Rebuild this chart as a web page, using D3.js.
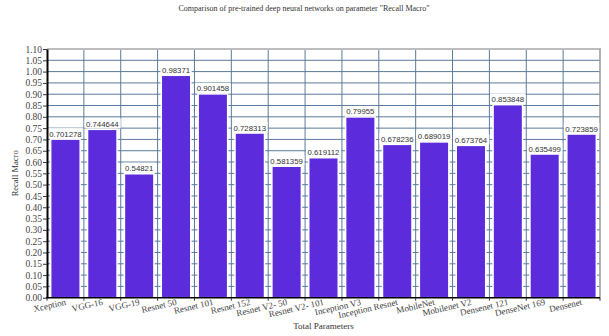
<!DOCTYPE html>
<html><head><meta charset="utf-8">
<script src="https://cdn.jsdelivr.net/npm/d3@7"></script>
<style>body{margin:0;background:#fff}</style>
</head><body>
<svg id="c" width="609" height="336"></svg>
<script>
const categories = ["Xception","VGG-16","VGG-19","Resnet 50","Resnet 101","Resnet 152","Resnet V2- 50","Resnet V2- 101","Inception V3","Inception Resnet","MobileNet","Mobilenet V2","Densenet 121","DenseNet 169","Densenet"];
const values = [0.701278,0.744644,0.54821,0.98371,0.901458,0.728313,0.581359,0.619112,0.79955,0.678236,0.689019,0.673764,0.853848,0.635499,0.723859];
const valueLabels = ["0.701278","0.744644","0.54821","0.98371","0.901458","0.728313","0.581359","0.619112","0.79955","0.678236","0.689019","0.673764","0.853848","0.635499","0.723859"];
const yTicks = d3.range(0, 23).map(i => +(i*0.05).toFixed(2));
const title = 'Comparison of pre-trained deep neural networks on parameter "Recall Macro"';
const xTitle = "Total Parameters";
const yTitle = "Recall Macro";

const svg = d3.select("#c");
const L = 47, R = 600, T = 49, B = 297.7;
const x = d3.scaleBand().domain(categories).range([L, R]).paddingInner(0.2).paddingOuter(0.1);
const y = d3.scaleLinear().domain([0, 1.1]).range([B, T]);
const bounds = d3.range(categories.length + 1).map(i => L + i * (R - L) / categories.length);

// grid
const g = svg.append("g");
g.selectAll("line.h").data(yTicks.slice(1, -1)).join("line")
  .attr("x1", L).attr("x2", R).attr("y1", d => y(d)).attr("y2", d => y(d))
  .attr("stroke", "#5a7a9c").attr("stroke-width", 1);
g.selectAll("line.v").data(bounds.slice(1, -1)).join("line")
  .attr("x1", d => d).attr("x2", d => d).attr("y1", T).attr("y2", B)
  .attr("stroke", "#5a7a9c").attr("stroke-width", 1);
g.append("line").attr("x1", L).attr("x2", R + 1).attr("y1", T).attr("y2", T).attr("stroke", "#bdbdbd").attr("stroke-width", 2);
g.append("line").attr("x1", R).attr("x2", R).attr("y1", T).attr("y2", B).attr("stroke", "#999").attr("stroke-width", 1.5);

// bars
const cw = (R - L) / categories.length;
const bw = cw * 0.8;
svg.selectAll("rect.bar").data(values).join("rect")
  .attr("x", (d, i) => bounds[i] + (cw - bw) / 2)
  .attr("width", bw)
  .attr("y", d => y(d)).attr("height", d => B - y(d))
  .attr("fill", "#5b2bdc").attr("stroke", "#fff").attr("stroke-width", 1.5);

// value labels
const lab = svg.append("g");
values.forEach((v, i) => {
  const cx = bounds[i] + cw / 2;
  const t = lab.append("text").attr("x", cx).attr("y", y(v) - 2.5)
    .attr("text-anchor", "middle").attr("font-family", "Liberation Sans, Arial, sans-serif")
    .attr("font-size", 7.8).attr("fill", "#333").text(valueLabels[i]);
  const bb = t.node().getBBox();
  lab.insert("rect", "text").attr("x", bb.x - 1.5).attr("y", y(v) - 11).attr("width", bb.width + 3).attr("height", 10).attr("fill", "#fff");
});

// y axis
const ya = svg.append("g").attr("transform", `translate(${L},0)`)
  .call(d3.axisLeft(y).tickValues(yTicks).tickFormat(d3.format(".2f")).tickSize(4).tickSizeOuter(0));
ya.select(".domain").attr("stroke", "#000").attr("stroke-width", 2);
ya.selectAll(".tick line").attr("stroke", "#333");
ya.selectAll(".tick text").attr("font-family", "Liberation Serif, Times New Roman, serif").attr("font-size", 9.5).attr("fill", "#444").attr("x", -5);

// x axis
svg.append("line").attr("x1", L - 1).attr("x2", R).attr("y1", B).attr("y2", B).attr("stroke", "#000").attr("stroke-width", 1.5);
svg.selectAll("line.xt").data(bounds).join("line")
  .attr("x1", d => d).attr("x2", d => d).attr("y1", B).attr("y2", B + 3).attr("stroke", "#333");
svg.selectAll("text.xl").data(categories).join("text")
  .attr("transform", (d, i) => `translate(${x(d) + x.bandwidth() / 2 + 1},${B + 7}) rotate(-13)`)
  .attr("text-anchor", "end").attr("font-family", "Liberation Serif, Times New Roman, serif")
  .attr("font-size", 9).attr("fill", "#444").text(d => d);

// titles
svg.append("text").attr("x", 304).attr("y", 11).attr("text-anchor", "middle")
  .attr("font-family", "Liberation Serif, Times New Roman, serif").attr("font-size", 8).attr("fill", "#333").text(title);
svg.append("text").attr("x", (L + R) / 2).attr("y", 329).attr("text-anchor", "middle")
  .attr("font-family", "Liberation Serif, Times New Roman, serif").attr("font-size", 9).attr("fill", "#333").text(xTitle);
svg.append("text").attr("transform", `translate(18,${(T + B) / 2}) rotate(-90)`).attr("text-anchor", "middle")
  .attr("font-family", "Liberation Serif, Times New Roman, serif").attr("font-size", 8.5).attr("fill", "#333").text(yTitle);
</script>
</body></html>
